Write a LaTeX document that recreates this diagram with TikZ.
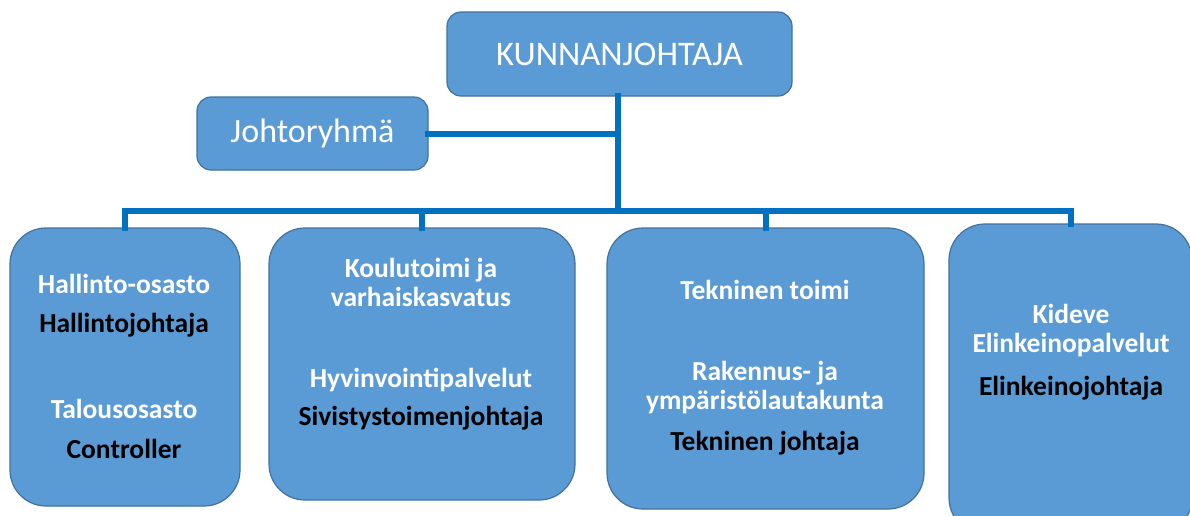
\documentclass[tikz,border=0pt]{standalone}
\usepackage{fontspec}
\setmainfont{Carlito}
\definecolor{boxfill}{HTML}{5B9BD5}
\definecolor{boxline}{HTML}{41719C}
\definecolor{connblue}{HTML}{0070C0}
\begin{document}
\begin{tikzpicture}[x=1pt,y=-1pt,
  topbox/.style={draw=boxline, fill=boxfill, line width=1.2pt, rounded corners=14pt,
    inner sep=0pt, outer sep=0pt, anchor=north west, text=white},
  unitbox/.style={draw=boxline, fill=boxfill, line width=1.2pt, rounded corners=36pt,
    inner sep=0pt, outer sep=0pt, anchor=north west},
  conn/.style={draw=connblue, line width=6pt, line join=miter, line cap=rect},
  wt/.style={text=white, font=\fontsize{27.5}{29}\selectfont\bfseries, inner sep=0pt},
  bt/.style={text=black, font=\fontsize{27.5}{29}\selectfont\bfseries, inner sep=0pt}]
\clip (0,0) rectangle (1190,515);
\fill[white] (0,0) rectangle (1190,515);
% boxes
\node[topbox, minimum width=345pt, minimum height=84pt,
  font=\fontsize{34.5}{40}\selectfont] (kunn) at (447,12) {KUNNANJOHTAJA};
\node[topbox, minimum width=231pt, minimum height=73pt,
  font=\fontsize{34}{40}\selectfont] (joht) at (197,97) {Johtoryhmä};
\node[unitbox, minimum width=230pt, minimum height=278pt] (b1) at (10,228) {};
\node[unitbox, minimum width=306pt, minimum height=272pt] (b2) at (269,228) {};
\node[unitbox, minimum width=317pt, minimum height=281pt] (b3) at (607,228) {};
\node[unitbox, minimum width=243pt, minimum height=310pt] (b4) at (949,224) {};
% connectors
\coordinate (bus) at (618,211);
\draw[conn] (kunn.south -| bus) -- (bus);
\draw[conn] (joht.east) -- (joht.east -| bus);
\draw[conn] (b1.north) |- (bus) -| (b4.north);
\draw[conn] (b2.north) -- (b2.north |- bus);
\draw[conn] (b3.north) -- (b3.north |- bus);
% texts box 1
\node[wt] (t11) at (124,284) {Hallinto-osasto};
\node[bt] (t12) at (124,325) {Hallintojohtaja};
\node[wt] (t13) at (124,409) {Talousosasto};
\node[bt] (t14) at (124,449) {Controller};
% texts box 2
\node[wt, align=center] (t21) at (421,282) {Koulutoimi ja\\varhaiskasvatus};
\node[wt] (t22) at (421,380) {Hyvinvointipalvelut};
\node[bt] (t23) at (421,418) {Sivistystoimenjohtaja};
% texts box 3
\node[wt] (t31) at (765,290) {Tekninen toimi};
\node[wt, align=center] (t32) at (765,388) {Rakennus- ja\\ympäristölautakunta};
\node[bt] (t33) at (765,443) {Tekninen johtaja};
% texts box 4
\node[wt, align=center] (t41) at (1071,331) {Kideve\\Elinkeinopalvelut};
\node[bt] (t42) at (1071,388) {Elinkeinojohtaja};
\end{tikzpicture}
\end{document}
